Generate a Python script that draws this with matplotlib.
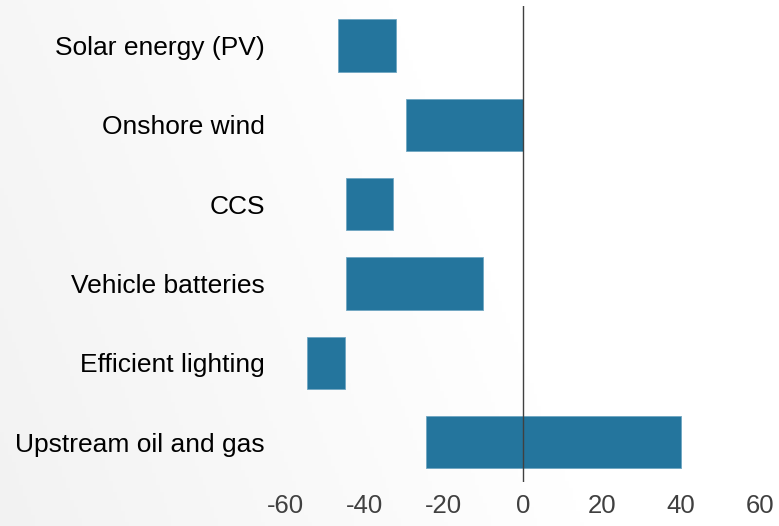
import numpy as np
import matplotlib
matplotlib.use("Agg")
import matplotlib.pyplot as plt

plt.rcParams['font.family'] = ['Liberation Sans', 'DejaVu Sans']

# categories, top to bottom
categories = ["Solar energy (PV)", "Onshore wind", "CCS",
              "Vehicle batteries", "Efficient lighting", "Upstream oil and gas"]
# start and end of each floating bar
bar_start = [-46.7, -29.7, -44.7, -44.7, -54.7, -24.6]
bar_end = [-32.1, 0, -33.0, -10.0, -45.1, 40.0]
xticks = [-60, -40, -20, 0, 20, 40, 60]

bar_color = "#24759d"

fig = plt.figure(figsize=(7.79, 5.26), dpi=100)

# soft grey gradient in the background, darker at the left
bg = fig.add_axes([0, 0, 1, 1], zorder=-1)
xx, yy = np.meshgrid(np.linspace(0, 1, 200), np.linspace(0, 1, 140))
g = np.clip(1 - (xx * 1.0 + (1 - yy) * 0.25) / 0.75, 0, 1)
shade = 1 - 0.05 * g
bg.imshow(np.dstack([shade, shade, shade]), aspect='auto', extent=[0, 1, 0, 1])
bg.axis('off')

ax = fig.add_axes([0.367, 0.0837, 0.6085, 0.905])
ax.patch.set_alpha(0)

y = np.arange(len(categories))
widths = [e - s for s, e in zip(bar_start, bar_end)]
ax.barh(y, widths, left=bar_start, height=0.66, color=bar_color,
        edgecolor="#6fa6c2", linewidth=0.6, zorder=2)
ax.axvline(0, color="#404040", linewidth=1.0, zorder=3)

ax.set_xlim(-60, 60)
ax.set_ylim(len(categories) - 0.5, -0.5)
ax.set_yticks(y)
ax.set_yticklabels(categories, fontsize=19, color="black")
ax.set_xticks(xticks)
ax.set_xticklabels([str(t) for t in xticks], fontsize=18.5, color="#404040")
ax.tick_params(axis='both', length=0)
ax.tick_params(axis='y', pad=15)
ax.tick_params(axis='x', pad=9)
for s in ax.spines.values():
    s.set_visible(False)

plt.savefig("out.png", dpi=100)
